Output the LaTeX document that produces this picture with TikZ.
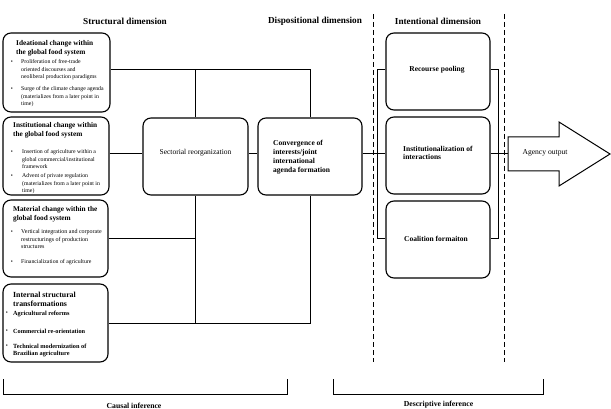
\documentclass[tikz,border=0pt]{standalone}
\usepackage{fontspec}
\setmainfont{Liberation Serif}
\usetikzlibrary{fit}
\begin{document}
\begin{tikzpicture}[x=1pt,y=-1pt,
  box/.style={draw, line width=1.1pt, rounded corners=8pt, inner sep=0pt},
  conn/.style={draw, line width=1pt},
  dashline/.style={draw, line width=0.6pt, dash pattern=on 5pt off 3pt},
  header/.style={inner sep=0pt, font=\bfseries\fontsize{9.2}{11}\selectfont},
  ttl/.style={anchor=north west, inner sep=0pt, align=left, font=\bfseries\fontsize{7.3}{9}\selectfont},
  btxt/.style={anchor=north west, inner sep=0pt, align=left, font=\fontsize{5.8}{7.3}\selectfont},
  btxtb/.style={anchor=north west, inner sep=0pt, align=left, font=\fontsize{6}{7.3}\selectfont},
  bbtxt/.style={anchor=north west, inner sep=0pt, align=left, font=\bfseries\fontsize{6.3}{7}\selectfont},
  bul/.style={inner sep=0pt, font=\fontsize{5.8}{7}\selectfont},
  midtxt/.style={inner sep=0pt, align=left, font=\bfseries\fontsize{7.5}{9}\selectfont},
  infer/.style={inner sep=0pt, font=\bfseries\fontsize{7.7}{9}\selectfont}]
\useasboundingbox (0,0) rectangle (611,409);

% row coordinates
\coordinate (r1) at (0,70);
\coordinate (r2) at (0,154);
\coordinate (r3) at (0,238);
\coordinate (r4) at (0,323);

% headers
\node[header] (h1) at (125,21) {Structural dimension};
\node[header] (h2) at (315,21) {Dispositional dimension};
\node[header] (h3) at (438,21) {Intentional dimension};

% dashed separators
\draw[dashline] (373,14) -- (373,362);
\draw[dashline] (504,14) -- (504,362);

% left boxes
\node[box, fit={(3,33) (110,112)}] (b1) {};
\node[box, fit={(3,117) (109,195)}] (b2) {};
\node[box, fit={(3,200) (108,277)}] (b3) {};
\node[box, fit={(3,284) (108,362)}] (b4) {};

% box 1 text
\node[ttl] (t1) at (16,40) {Ideational change within\\the global food system};
\node[bul] (u11) at (12,62) {\textbullet};
\node[btxt] (x11) at (21,59.6) {Proliferation of free-trade\\oriented discourses and\\neoliberal production paradigms};
\node[bul] (u12) at (12,89) {\textbullet};
\node[btxt] (x12) at (21,86.6) {Surge of the climate change agenda\\(materializes from a later point in\\time)};

% box 2 text
\node[ttl] (t2) at (13,122) {Institutional change within\\the global food system};
\node[bul] (u21) at (12,152) {\textbullet};
\node[btxt] (x21) at (22,149.6) {Insertion of agriculture within a\\global commercial/institutional\\framework};
\node[bul] (u22) at (12,176) {\textbullet};
\node[btxt] (x22) at (22,173.6) {Advent of private regulation\\(materializes from a later point in\\time)};

% box 3 text
\node[ttl] (t3) at (13,206) {Material change within the\\global food system};
\node[bul] (u31) at (12,232) {\textbullet};
\node[btxtb] (x31) at (21,229.6) {Vertical integration and corporate\\restructurings of production\\structures};
\node[bul] (u32) at (12,262) {\textbullet};
\node[btxt] (x32) at (21,259.6) {Financialization of agriculture};

% box 4 text
\node[ttl, font=\bfseries\fontsize{7.8}{8.5}\selectfont] (t4) at (13,292) {Internal structural\\transformations};
\node[bul] (u41) at (7,313) {\textbullet};
\node[bbtxt] (x41) at (13,310.5) {Agricultural reforms};
\node[bul] (u42) at (7,331) {\textbullet};
\node[bbtxt] (x42) at (13,328.5) {Commercial re-orientation};
\node[bul] (u43) at (7,346) {\textbullet};
\node[bbtxt] (x43) at (13,343.5) {Technical modernization of\\Brazilian agriculture};

% middle boxes
\node[box, fit={(143,118) (248,195)}] (sec) {};
\node[inner sep=0pt, font=\fontsize{7.5}{9}\selectfont] (sect) at (195.5,153) {Sectorial reorganization};
\node[box, fit={(258,118) (362,195)}] (conv) {};
\node[midtxt, anchor=north west] (convt) at (273,140) {Convergence of\\interests/joint\\international\\agenda formation};

% intentional boxes
\node[box, fit={(386,33) (490,110)}] (ia) {};
\node[box, fit={(386,117) (490,194)}] (ib) {};
\node[box, fit={(386,201) (490,278)}] (ic) {};
\node[midtxt] (iat) at (437,70) {Recourse pooling};
\node[midtxt, anchor=north west, font=\bfseries\fontsize{7.5}{8}\selectfont] (ibt) at (403,146) {Institutionalization of\\interactions};
\node[midtxt] (ict) at (436,239) {Coalition formaiton};

% arrow
\coordinate (atail) at (508,154);
\draw[line width=1pt, line join=miter] (508,137) -- (559,137) -- (559,122) -- (610,154) -- (559,186) -- (559,171) -- (508,171) -- cycle;
\node[inner sep=0pt, font=\fontsize{7.6}{9}\selectfont] (ao) at (545,153) {Agency output};

% connectors
\draw[conn] (b1.east|-r1) -- (conv.north|-r1) -- (conv.north);
\draw[conn] (sec.north|-r1) -- (sec.north);
\draw[conn] (b2.east|-r2) -- (sec.west|-r2);
\draw[conn] (sec.east|-r2) -- (conv.west|-r2);
\draw[conn] (conv.east|-r2) -- (ib.west|-r2);
\draw[conn] (b3.east|-r3) -- (sec.south|-r3);
\draw[conn] (sec.south) -- (sec.south|-r4);
\draw[conn] (b4.east|-r4) -- (conv.south|-r4) -- (conv.south);
\draw[conn] (ia.west|-r1) -- ++(-8,0) |- (ic.west|-r3);
\draw[conn] (ia.east|-r1) -- ++(8,0) |- (ic.east|-r3);
\draw[conn] (ib.east|-r2) -- (atail);

% bottom brackets
\coordinate (cl) at (3,379);
\coordinate (cr) at (287,379);
\coordinate (dl) at (333,379);
\coordinate (dr) at (543,379);
\draw[conn] (cl) -- ++(0,15) -| (cr);
\draw[conn] (dl) -- ++(0,15) -| (dr);
\node[infer] (ci) at (134,406) {Causal inference};
\node[infer] (di) at (438.5,405) {Descriptive inference};
\end{tikzpicture}
\end{document}
